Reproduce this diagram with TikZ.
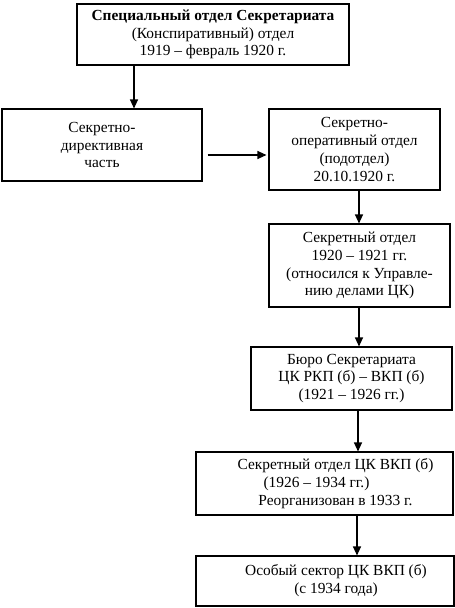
\documentclass[tikz,border=0pt]{standalone}
\usepackage{fontspec}
\setmainfont{Liberation Serif}
\usetikzlibrary{arrows.meta}
\begin{document}
\begin{tikzpicture}[x=1pt,y=-1pt,
  box/.style={draw,line width=1.1pt,rectangle,align=center,inner sep=0pt,
    font=\fontsize{15.4}{17.8}\selectfont},
  arr/.style={line width=1.1pt,-{Triangle[length=9pt,width=8pt]}}]
\useasboundingbox (0,0) rectangle (455,608);
\node[box,minimum width=272pt,minimum height=61pt] (b1) at (213,34.5)
  {\textbf{Специальный отдел Секретариата}\\(Конспиративный) отдел\\1919 – февраль 1920 г.};
\node[box,minimum width=200pt,minimum height=72pt] (b2) at (102,145)
  {Секретно-\\директивная\\часть};
\node[box,minimum width=171pt,minimum height=81pt] (b3) at (354.5,149.5)
  {Секретно-\\оперативный отдел\\(подотдел)\\20.10.1920 г.};
\node[box,minimum width=181pt,minimum height=83pt] (b4) at (359.5,265.5)
  {Секретный отдел\\1920 – 1921 гг.\\(относился к Управле-\\нию делами ЦК)};
\node[box,minimum width=201pt,minimum height=63pt] (b5) at (351.5,378.5)
  {Бюро Секретариата\\ЦК РКП (б) – ВКП (б)\\(1921 – 1926 гг.)};
\node[box,minimum width=257pt,minimum height=63pt] (b6) at (324.5,483.5)
  {\hspace*{22pt}Секретный отдел ЦК ВКП (б)\\\hspace*{-16pt}(1926 – 1934 гг.)\\\hspace*{22pt}Реорганизован в 1933 г.};
\node[box,minimum width=258pt,minimum height=50pt] (b7) at (325,581)
  {\hspace*{22pt}Особый сектор ЦК ВКП (б)\\\hspace*{22pt}(с 1934 года)};
\draw[arr] (134,0 |- b1.south) -- (134,0 |- b2.north);
\draw[arr,shorten <=5pt,shorten >=2pt] (b2.east |- 0,155) -- (b3.west |- 0,155);
\draw[arr] (359,0 |- b3.south) -- (359,0 |- b4.north);
\draw[arr] (359,0 |- b4.south) -- (359,0 |- b5.north);
\draw[arr] (358,0 |- b5.south) -- (358,0 |- b6.north);
\draw[arr] (357,0 |- b6.south) -- (357,0 |- b7.north);
\end{tikzpicture}
\end{document}
